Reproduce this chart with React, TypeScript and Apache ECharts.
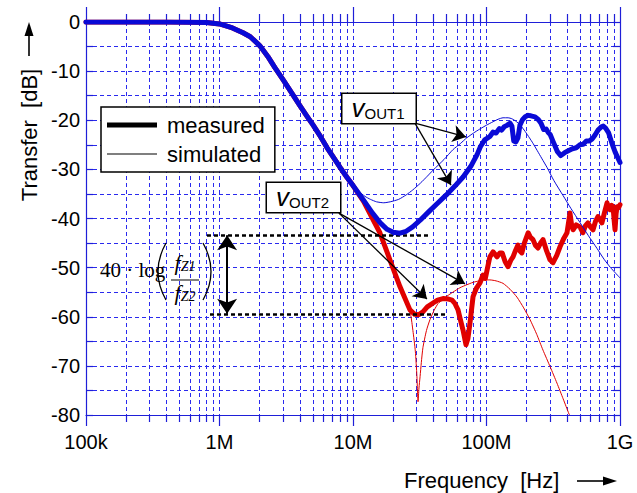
import React, { useEffect, useRef } from 'react';
import * as echarts from 'echarts';

// ---------- data (frequency in MHz, transfer in dB) ----------
const xTickValues = [1e5, 1e6, 1e7, 1e8, 1e9];
const xTickLabels = ['100k', '1M', '10M', '100M', '1G'];

const rollOffFreqMHz = [0.1, 0.2, 0.4, 0.6, 0.8, 1.0, 1.25, 1.5, 1.7, 2.0, 2.3, 2.6, 3.0, 3.5, 4.0, 4.5, 5.0, 5.7, 6.4, 7.0, 8.0, 9.0];
const rollOffDb = [0, 0, 0, -0.05, -0.1, -0.4, -1.2, -2.2, -3.0, -4.8, -7.0, -9.3, -11.8, -14.6, -17.0, -19.1, -20.9, -23.3, -25.6, -27.2, -29.6, -31.6];

const v1MeasFreqMHz = [10, 12, 14, 16, 18, 20, 22.5, 25, 28, 32, 37, 43, 50, 58, 67, 77, 85, 90, 97, 106, 112, 118, 125, 130, 136, 143, 150, 155, 160, 166, 172, 178, 186, 195, 205, 215, 231, 245, 256, 268, 280, 290, 300, 315, 340, 360, 385, 410, 440, 470, 500, 530, 560, 590, 620, 650, 685, 720, 750, 780, 820, 870, 920, 1000];
const v1MeasDb = [-33.3, -36.3, -38.9, -40.9, -42.2, -42.8, -43.0, -42.6, -41.7, -40.3, -38.6, -36.9, -35.2, -33.4, -31.5, -29.2, -27.0, -25.4, -24.0, -23.3, -22.4, -22.6, -21.7, -22.0, -21.3, -21.0, -20.6, -21.2, -24.2, -24.4, -23.6, -21.0, -19.9, -19.3, -19.0, -19.1, -19.3, -19.9, -20.6, -21.9, -21.8, -22.5, -22.9, -24.3, -26.4, -27.2, -26.6, -26.2, -25.8, -25.6, -25.0, -24.9, -24.2, -24.2, -23.8, -23.0, -22.0, -21.4, -21.2, -21.6, -22.5, -24.7, -26.5, -28.6];

const v1SimFreqMHz = [10, 11, 12.3, 13.5, 15, 17, 19, 22, 25, 28, 32, 36, 40, 48, 56, 64, 71, 80, 89, 100, 112, 122, 133, 145, 155, 166, 178, 195, 210, 223, 245, 265, 284, 320, 374, 430, 501, 580, 673, 760, 850, 1000];
const v1SimDb = [-33.0, -34.4, -35.5, -36.1, -36.6, -36.8, -36.6, -36.1, -35.2, -34.2, -32.8, -31.4, -30.1, -28.0, -26.0, -24.7, -23.6, -22.6, -21.8, -21.0, -20.3, -19.8, -19.5, -19.5, -19.7, -20.2, -20.9, -22.3, -23.6, -24.7, -26.6, -28.2, -29.6, -32.3, -35.3, -38.0, -40.8, -43.5, -46.1, -48.3, -50.0, -52.1];

const v2MeasFreqMHz = [10, 12, 14, 15.9, 18.9, 22.5, 26.7, 29, 31, 33.4, 36, 39.8, 43, 47.2, 52, 55.2, 58, 61.2, 64, 66.7, 70.2, 72.5, 75.2, 79.3, 84, 89.4, 94.2, 98, 101, 106, 112, 120, 126, 131, 138, 145, 152, 158, 165, 172, 178, 184, 192, 205, 213, 223, 233, 243, 254, 265, 282, 299, 315, 336, 356, 380, 401, 422, 435, 445, 470, 501, 528, 550, 575, 600, 628, 655, 685, 710, 732, 765, 800, 820, 841, 865, 887, 905, 918, 935, 951, 975, 1000];
const v2MeasDb = [-33.3, -36.5, -40.0, -42.9, -48.4, -53.9, -58.6, -59.5, -59.6, -59.0, -58.0, -57.2, -56.6, -56.3, -56.4, -56.6, -57.3, -58.6, -60.8, -62.7, -65.7, -64.5, -61.3, -55.9, -54.2, -53.1, -51.5, -52.2, -50.5, -47.8, -46.8, -47.8, -47.0, -47.0, -48.8, -49.8, -48.5, -47.8, -46.5, -45.4, -46.6, -47.0, -45.0, -42.9, -43.8, -44.3, -45.5, -46.0, -45.0, -44.3, -46.6, -48.4, -49.0, -47.5, -45.7, -44.0, -42.9, -38.9, -41.5, -42.3, -41.3, -41.7, -42.9, -41.5, -40.9, -41.7, -42.3, -40.6, -39.6, -40.3, -40.9, -38.8, -36.8, -38.0, -38.2, -37.3, -37.6, -40.5, -42.3, -39.0, -37.6, -37.8, -37.2];

const v2SimFreqMHz = [10, 12, 14, 15.9, 18.9, 22.5, 25, 27, 28.1, 29.3, 30.1, 30.7, 31.2, 31.8, 32.5, 33.4, 35.5, 37.7, 40.5, 43.4, 47, 50.6, 56, 63.2, 71, 79.3, 88, 97.5, 106, 118, 133, 150, 169, 190, 212, 238, 265, 300, 337, 375, 415, 420];
const v2SimDb = [-33.3, -36.5, -40.0, -42.9, -48.4, -53.9, -56.8, -59.5, -62.8, -67.0, -72.0, -77.3, -74.5, -72.2, -69.3, -66.3, -62.8, -60.6, -58.7, -57.3, -56.5, -55.8, -55.0, -54.1, -53.5, -53.0, -52.7, -52.5, -52.5, -52.7, -53.2, -54.4, -56.0, -58.2, -60.6, -63.6, -66.8, -70.2, -73.5, -76.7, -79.8, -80.0];

// annotation anchor points [MHz, dB]
const vout1ArrowFrom = [29.1, -20.6];
const vout1ArrowTips = [[70.2, -23.4], [54.2, -33.2]];
const vout2ArrowFrom = [7.85, -38.9];
const vout2ArrowTips = [[35.8, -56.4], [69.0, -53.3]];
const upperLevel = { fromMHz: 0.806, toMHz: 36.5, db: -43.4 };
const lowerLevel = { fromMHz: 0.849, toMHz: 50.6, db: -59.4 };
const spanArrowMHz = 1.14;

// ---------- helpers ----------
const hz = (mhz: number) => mhz * 1e6;
const pairs = (f: number[], d: number[]) => f.map((v, i) => [hz(v), d[i]]);
const withRollOff = (f: number[], d: number[]) => pairs(rollOffFreqMHz.concat(f), rollOffDb.concat(d));

const BLUE = '#0a0ad6';
const RED = '#e00000';
const GRID = '#2a2aee';
const AXIS = '#1f1fd8';
const SANS = '"Liberation Sans", Arial, Helvetica, sans-serif';
const SERIF = '"Liberation Serif", "Times New Roman", serif';

const xLabel = (v: number) => {
  const i = xTickValues.findIndex((t) => Math.abs(Math.log10(v / t)) < 1e-6);
  return i >= 0 ? xTickLabels[i] : '';
};

const dashed = { color: GRID, width: 1, type: [4, 3] as any };

function buildOption(): any {
  const xCommon = {
    type: 'log',
    logBase: 10,
    min: 1e5,
    max: 1e9,
    axisLine: { onZero: false, lineStyle: { color: AXIS, width: 1.2 } },
  };
  const yCommon = {
    type: 'value',
    min: -80,
    max: 0,
    interval: 10,
    axisLine: { onZero: false, show: true, lineStyle: { color: AXIS, width: 1.2 } },
    axisTick: { show: true, inside: true, length: 7, lineStyle: { color: AXIS, width: 1.2 } },
    minorTick: { show: true, splitNumber: 2, length: 7, lineStyle: { color: AXIS, width: 1.2 } },
  };
  return {
    animation: false,
    backgroundColor: '#ffffff',
    textStyle: { fontFamily: SANS },
    grid: { left: 86, right: 17, top: 22, bottom: 78, containLabel: false },
    xAxis: [
      {
        ...xCommon,
        position: 'bottom',
        axisTick: { show: true, inside: false, length: 11, lineStyle: { color: AXIS, width: 1.2 } },
        minorTick: { show: true, splitNumber: 9, length: 7, lineStyle: { color: AXIS, width: 1.2 } },
        axisLabel: { show: true, formatter: xLabel, color: '#000', fontSize: 20, fontFamily: SANS, margin: 17 },
        splitLine: { show: true, lineStyle: dashed },
        minorSplitLine: { show: true, lineStyle: dashed },
      },
      {
        ...xCommon,
        position: 'top',
        axisTick: { show: true, inside: false, length: 15, lineStyle: { color: AXIS, width: 1.2 } },
        minorTick: { show: true, splitNumber: 9, length: 8, lineStyle: { color: AXIS, width: 1.2 } },
        axisLabel: { show: false },
        splitLine: { show: false },
      },
    ],
    yAxis: [
      {
        ...yCommon,
        position: 'left',
        axisLabel: { show: true, color: '#000', fontSize: 20, fontFamily: SANS, margin: 6 },
        splitLine: { show: true, lineStyle: dashed },
        minorSplitLine: { show: true, lineStyle: dashed },
      },
      {
        ...yCommon,
        position: 'right',
        axisLabel: { show: false },
        splitLine: { show: false },
      },
    ],
    legend: {
      show: true,
      orient: 'vertical',
      left: 101,
      top: 107,
      padding: [7, 10, 7, 6],
      itemGap: 7,
      itemWidth: 50,
      itemHeight: 21,
      backgroundColor: '#ffffff',
      borderColor: '#000',
      borderWidth: 1.5,
      borderRadius: 0,
      selectedMode: false,
      textStyle: { color: '#000', fontSize: 22, fontFamily: SANS, padding: [0, 0, 0, 5] },
      data: [
        { name: 'measured', icon: 'path://M0,0H50V5H0Z' },
        { name: 'simulated', icon: 'path://M0,0H50V1H0Z' },
      ],
    },
    series: [
      {
        name: 'VOUT2 simulated',
        type: 'line',
        data: withRollOff(v2SimFreqMHz, v2SimDb),
        showSymbol: false,
        symbol: 'none',
        smooth: 0.2,
        lineStyle: { color: RED, width: 1 },
        itemStyle: { color: RED },
        z: 3,
      },
      {
        name: 'VOUT2 measured',
        type: 'line',
        data: withRollOff(v2MeasFreqMHz, v2MeasDb),
        showSymbol: false,
        symbol: 'none',
        lineStyle: { color: RED, width: 5, cap: 'round', join: 'round' },
        itemStyle: { color: RED },
        z: 4,
      },
      {
        name: 'VOUT1 measured',
        type: 'line',
        data: withRollOff(v1MeasFreqMHz, v1MeasDb),
        showSymbol: false,
        symbol: 'none',
        lineStyle: { color: BLUE, width: 5, cap: 'round', join: 'round' },
        itemStyle: { color: BLUE },
        z: 5,
      },
      {
        name: 'VOUT1 simulated',
        type: 'line',
        data: withRollOff(v1SimFreqMHz, v1SimDb),
        showSymbol: false,
        symbol: 'none',
        smooth: 0.2,
        lineStyle: { color: BLUE, width: 1 },
        itemStyle: { color: BLUE },
        z: 6,
      },
      { name: 'measured', type: 'line', data: [], itemStyle: { color: '#000' }, lineStyle: { color: '#000', width: 5 } },
      { name: 'simulated', type: 'line', data: [], itemStyle: { color: '#000' }, lineStyle: { color: '#000', width: 1 } },
      {
        name: 'annot-arrows',
        type: 'line',
        data: [],
        z: 7,
        markLine: {
          silent: true,
          animation: false,
          label: { show: false },
          symbol: ['none', 'arrow'],
          symbolSize: 13,
          lineStyle: { color: '#000', width: 1.3, type: 'solid' },
          data: [
            ...vout1ArrowTips.map((t) => [{ coord: [hz(vout1ArrowFrom[0]), vout1ArrowFrom[1]] }, { coord: [hz(t[0]), t[1]] }]),
            ...vout2ArrowTips.map((t) => [{ coord: [hz(vout2ArrowFrom[0]), vout2ArrowFrom[1]] }, { coord: [hz(t[0]), t[1]] }]),
          ],
        },
      },
      {
        name: 'annot-span',
        type: 'line',
        data: [],
        z: 7,
        markLine: {
          silent: true,
          animation: false,
          label: { show: false },
          symbol: ['arrow', 'arrow'],
          symbolSize: 15,
          lineStyle: { color: '#000', width: 2, type: 'solid' },
          data: [[{ coord: [hz(spanArrowMHz), upperLevel.db] }, { coord: [hz(spanArrowMHz), lowerLevel.db] }]],
        },
      },
      {
        name: 'annot-levels',
        type: 'line',
        data: [],
        z: 7,
        markLine: {
          silent: true,
          animation: false,
          label: { show: false },
          symbol: ['none', 'none'],
          lineStyle: { color: '#000', width: 2.6, type: [4, 3] },
          data: [
            [{ coord: [hz(upperLevel.fromMHz), upperLevel.db] }, { coord: [hz(upperLevel.toMHz), upperLevel.db] }],
            [{ coord: [hz(lowerLevel.fromMHz), lowerLevel.db] }, { coord: [hz(lowerLevel.toMHz), lowerLevel.db] }],
          ],
        },
      },
    ],
    graphic: [
      {
        type: 'text',
        x: 29,
        y: 135,
        rotation: Math.PI / 2,
        style: { text: 'Transfer  [dB]', font: `22px ${SANS}`, fill: '#000', align: 'center', verticalAlign: 'middle' },
      },
      { type: 'line', shape: { x1: 29, y1: 56, x2: 29, y2: 32 }, style: { stroke: '#000', lineWidth: 1.6 } },
      { type: 'polygon', shape: { points: [[29, 22], [24.5, 36], [33.5, 36]] }, style: { fill: '#000' } },
      {
        type: 'text',
        x: 404,
        y: 480,
        style: { text: 'Frequency  [Hz]', font: `22px ${SANS}`, fill: '#000', align: 'left', verticalAlign: 'middle' },
      },
      { type: 'line', shape: { x1: 577, y1: 481, x2: 605, y2: 481 }, style: { stroke: '#000', lineWidth: 1.6 } },
      { type: 'polygon', shape: { points: [[617, 481], [603, 476.5], [603, 485.5]] }, style: { fill: '#000' } },
      {
        type: 'text',
        x: 379,
        y: 108.5,
        z: 20,
        style: {
          text: '{v|v}{s|OUT1}',
          align: 'center',
          verticalAlign: 'middle',
          backgroundColor: '#fff',
          borderColor: '#000',
          borderWidth: 1.5,
          padding: [2, 11, 2, 9],
          rich: {
            v: { font: `italic 26px ${SANS}`, fill: '#000', lineHeight: 25, verticalAlign: 'bottom' },
            s: { font: `15px ${SANS}`, fill: '#000', lineHeight: 21, verticalAlign: 'bottom' },
          },
        },
      },
      {
        type: 'text',
        x: 303.5,
        y: 197.5,
        z: 20,
        style: {
          text: '{v|v}{s|OUT2}',
          align: 'center',
          verticalAlign: 'middle',
          backgroundColor: '#fff',
          borderColor: '#000',
          borderWidth: 1.5,
          padding: [2, 11, 2, 9],
          rich: {
            v: { font: `italic 26px ${SANS}`, fill: '#000', lineHeight: 25, verticalAlign: 'bottom' },
            s: { font: `15px ${SANS}`, fill: '#000', lineHeight: 21, verticalAlign: 'bottom' },
          },
        },
      },
      {
        type: 'text',
        x: 100,
        y: 270,
        z: 20,
        style: { text: '40 · log', font: `21px ${SERIF}`, fill: '#000', align: 'left', verticalAlign: 'middle' },
      },
      {
        type: 'bezierCurve',
        z: 20,
        shape: { x1: 166, y1: 243, x2: 166, y2: 300, cpx1: 150, cpy1: 271.5 },
        style: { stroke: '#000', lineWidth: 1.3, fill: null },
      },
      {
        type: 'bezierCurve',
        z: 20,
        shape: { x1: 203, y1: 243, x2: 203, y2: 300, cpx1: 219, cpy1: 271.5 },
        style: { stroke: '#000', lineWidth: 1.3, fill: null },
      },
      {
        type: 'text',
        x: 185,
        y: 262,
        z: 20,
        style: {
          text: '{f|f}{z|Z1}',
          align: 'center',
          verticalAlign: 'middle',
          rich: {
            f: { font: `italic 22px ${SERIF}`, fill: '#000', lineHeight: 22, verticalAlign: 'bottom' },
            z: { font: `italic 14px ${SERIF}`, fill: '#000', lineHeight: 16, verticalAlign: 'bottom' },
          },
        },
      },
      { type: 'line', z: 20, shape: { x1: 171, y1: 280, x2: 199, y2: 280 }, style: { stroke: '#000', lineWidth: 1 } },
      {
        type: 'text',
        x: 185,
        y: 292,
        z: 20,
        style: {
          text: '{f|f}{z|Z2}',
          align: 'center',
          verticalAlign: 'middle',
          rich: {
            f: { font: `italic 22px ${SERIF}`, fill: '#000', lineHeight: 22, verticalAlign: 'bottom' },
            z: { font: `italic 14px ${SERIF}`, fill: '#000', lineHeight: 16, verticalAlign: 'bottom' },
          },
        },
      },
    ],
  };
}

export default function App() {
  const ref = useRef<HTMLDivElement>(null);
  useEffect(() => {
    if (!ref.current) return;
    const chart = echarts.init(ref.current, null, { renderer: 'svg' });
    chart.setOption(buildOption());
    return () => chart.dispose();
  }, []);
  return (
    <div
      ref={ref}
      style={{ position: 'fixed', left: 0, top: 0, width: 637, height: 493, background: '#fff' }}
    />
  );
}
